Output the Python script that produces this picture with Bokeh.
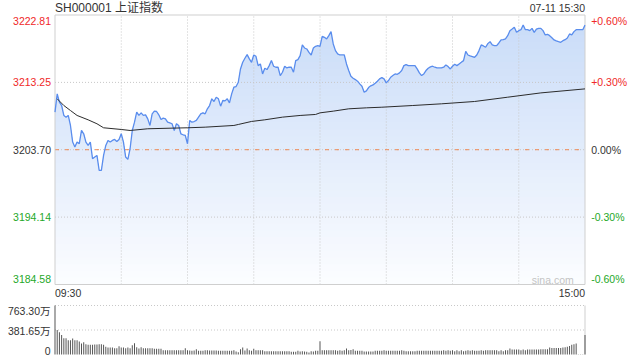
import numpy as np
from bokeh.plotting import figure
from bokeh.models import Range1d, Label
from bokeh.embed import file_html
from bokeh.resources import INLINE

# ---------------- data ----------------
title_text = "SH000001 上证指数"
date_text = "07-11 15:30"
prev_close = 3203.70
price_ticks = [3222.81, 3213.25, 3203.70, 3194.14, 3184.58]
pct_labels = ["+0.60%", "+0.30%", "0.00%", "-0.30%", "-0.60%"]
time_labels = ["09:30", "15:00"]
grid_minutes = [30, 60, 90, 120, 150, 180, 210]
vol_ticks = [763.30, 381.65, 0]
vol_labels = ["763.30万", "381.65万", "0"]

# one price per minute, 09:30 .. 11:30 / 13:01 .. 15:00 (241 points)
prices = [
    3209.03, 3211.62, 3210.44, 3209.97, 3208.56, 3208.32, 3208.56, 3207.14, 3204.78, 3204.07,
    3204.78, 3204.55, 3206.43, 3205.96, 3204.78, 3204.31, 3204.78, 3202.42, 3202.66, 3202.89,
    3200.77, 3200.77, 3202.89, 3204.31, 3205.02, 3204.78, 3205.02, 3205.16, 3204.87, 3205.16,
    3205.96, 3204.78, 3202.66, 3202.33, 3203.84, 3206.43, 3207.61, 3209.03, 3208.56, 3208.93,
    3208.56, 3208.65, 3208.08, 3207.14, 3208.79, 3209.17, 3209.12, 3208.65, 3207.99, 3208.18,
    3208.08, 3207.61, 3207.52, 3207.38, 3206.43, 3207.38, 3207.14, 3205.96, 3205.82, 3205.72,
    3204.55, 3207.85, 3207.61, 3207.70, 3207.85, 3208.32, 3208.79, 3208.93, 3208.79, 3209.50,
    3209.97, 3210.92, 3210.54, 3211.15, 3210.92, 3209.88, 3210.68, 3210.63, 3210.92, 3210.35,
    3211.62, 3212.57, 3212.66, 3213.27, 3215.16, 3216.10, 3216.67, 3217.19, 3216.58, 3216.10,
    3217.14, 3216.95, 3215.63, 3215.87, 3214.45, 3215.26, 3215.07, 3215.63, 3216.34, 3215.54,
    3215.40, 3215.40, 3214.22, 3214.69, 3215.54, 3215.30, 3215.40, 3215.40, 3214.69, 3216.34,
    3216.48, 3217.05, 3218.56, 3218.13, 3217.99, 3217.52, 3217.14, 3218.13, 3218.37, 3218.46,
    3218.37, 3219.79, 3219.64, 3219.41, 3219.88, 3220.45, 3218.70, 3217.76, 3217.29, 3217.14,
    3217.14, 3217.14, 3215.87, 3214.93, 3214.12, 3213.84, 3213.65, 3213.42, 3213.04, 3212.71,
    3211.86, 3212.05, 3212.52, 3212.76, 3212.90, 3213.13, 3213.42, 3213.75, 3213.93, 3213.75,
    3213.18, 3213.51, 3213.98, 3214.22, 3214.45, 3214.40, 3214.60, 3214.93, 3215.63, 3215.78,
    3215.63, 3215.63, 3215.63, 3215.63, 3215.16, 3214.60, 3214.22, 3214.45, 3214.93, 3215.26,
    3215.45, 3215.54, 3215.40, 3215.30, 3215.30, 3215.30, 3215.40, 3215.73, 3215.49, 3215.16,
    3215.54, 3215.82, 3215.63, 3215.87, 3216.10, 3216.34, 3217.66, 3217.14, 3217.00, 3216.91,
    3216.81, 3217.14, 3217.76, 3218.56, 3218.42, 3218.23, 3218.75, 3219.03, 3218.56, 3218.46,
    3218.46, 3218.84, 3219.27, 3219.31, 3219.41, 3219.88, 3220.59, 3220.82, 3221.06, 3220.35,
    3220.59, 3220.73, 3221.39, 3220.73, 3220.73, 3220.59, 3220.92, 3220.35, 3220.82, 3220.92,
    3220.92, 3220.59, 3219.98, 3220.07, 3219.88, 3219.59, 3219.27, 3219.13, 3219.03, 3218.94,
    3219.17, 3219.31, 3219.55, 3220.12, 3219.98, 3220.45, 3220.73, 3220.73, 3220.73, 3220.73,
    3221.37,
]

# average price line (read at selected minutes)
avg_minutes = [1, 4, 7, 10, 15, 19, 22, 30, 34, 42, 53, 60, 68, 81, 83, 89, 95, 103,
               111, 118, 120, 126, 133, 141, 148, 162, 175, 190, 205, 220, 240]
avg_values = [3210.92, 3209.97, 3209.26, 3208.56, 3207.94, 3207.38, 3206.81, 3206.57,
              3206.43, 3206.67, 3206.76, 3206.81, 3206.90, 3207.14, 3207.28, 3207.71,
              3207.94, 3208.32, 3208.56, 3208.70, 3208.93, 3209.17, 3209.50, 3209.64,
              3209.73, 3209.97, 3210.21, 3210.54, 3211.15, 3211.76, 3212.33]

# volume per minute, in 万
volumes = [
    763.3, 381, 345, 304, 253, 253, 222, 222, 248, 222,
    222, 201, 170, 191, 160, 150, 150, 150, 155, 155,
    160, 160, 150, 119, 108, 108, 108, 98, 98, 129,
    108, 108, 98, 108, 98, 144, 175, 113, 93, 113,
    98, 98, 98, 98, 98, 88, 88, 88, 88, 67,
    67, 67, 67, 67, 67, 67, 67, 67, 67, 98,
    67, 62, 57, 62, 83, 57, 57, 57, 67, 67,
    62, 62, 62, 62, 57, 57, 57, 57, 57, 57,
    57, 67, 46, 36, 83, 108, 62, 93, 67, 57,
    88, 67, 67, 67, 67, 52, 52, 52, 52, 52,
    52, 52, 52, 52, 52, 52, 52, 41, 41, 41,
    57, 46, 52, 46, 41, 31, 52, 46, 57, 57,
    206, 67, 67, 67, 67, 67, 67, 67, 57, 67,
    57, 67, 93, 67, 72, 83, 57, 57, 57, 57,
    46, 46, 46, 46, 46, 57, 57, 57, 57, 67,
    57, 57, 57, 57, 57, 57, 57, 67, 57, 52,
    52, 52, 52, 52, 57, 57, 57, 57, 57, 57,
    57, 57, 57, 57, 57, 57, 67, 57, 67, 57,
    67, 52, 67, 52, 67, 52, 57, 67, 57, 67,
    57, 57, 57, 67, 57, 67, 67, 67, 67, 67,
    67, 52, 67, 52, 67, 67, 93, 77, 77, 77,
    77, 67, 77, 67, 77, 77, 77, 77, 77, 77,
    83, 83, 83, 83, 108, 103, 103, 103, 103, 103,
    108, 113, 119, 134, 150, 160, 170, 3, 3, 3,
    304,
]

# ---------------- layout (pixels) & styles ----------------
W, H = 640, 360
PX_LEFT, PX_RIGHT = 54.5, 584.5
PX_PTOP, PX_PBOT = 14.5, 284.0
PX_VTOP, PX_VBOT = 305.0, 354.0

FONT = "'Liberation Sans', 'Noto Sans CJK SC'"
RED = "#f02828"
GREEN = "#24a828"
DARK = "#333333"
BORDER = "#cfcfcf"
GRID = "#c8c8c8"
LINE_BLUE = "#5a8ded"
AVG = "#2b2b2b"
DASH = "#f08a55"
TOP_FILL = np.array([200, 219, 248])
BOT_FILL = np.array([252, 253, 255])

minutes = np.arange(len(prices))
price_arr = np.array(prices)
ymin, ymax = min(price_ticks), max(price_ticks)
xmax = len(prices) - 1
vmax = max(vol_ticks)


def full_range(v0, v1, px0, px1, total, invert=False):
    # value v0 at pixel px0, v1 at pixel px1; returns range covering [0, total] pixels
    if invert:
        px0, px1 = total - px0, total - px1
    scale = (v1 - v0) / (px1 - px0)
    return Range1d(v0 - px0 * scale, v0 + (total - px0) * scale)


x_range = full_range(0, xmax, PX_LEFT, PX_RIGHT, W)
y_range = full_range(ymin, ymax, PX_PBOT, PX_PTOP, H, invert=True)
vol_range = full_range(0, vmax, PX_VBOT, PX_VTOP, H, invert=True)

p = figure(width=W, height=H, x_range=x_range, y_range=y_range,
           output_backend="svg", toolbar_location=None,
           x_axis_location=None, y_axis_location=None, min_border=0)
p.extra_y_ranges = {"vol": vol_range}
p.outline_line_color = None
p.background_fill_color = "white"
p.border_fill_color = "white"
p.xgrid.visible = False
p.ygrid.visible = False

# gradient fill under the price line (stacked bands, top band first)
nb = 40
levels = np.linspace(ymin, ymax, nb + 1)
for k in range(nb - 1, -1, -1):
    t = (k + 0.5) / nb
    c = BOT_FILL + (TOP_FILL - BOT_FILL) * t
    col = "#%02x%02x%02x" % tuple(int(round(val)) for val in c)
    p.varea(x=minutes, y1=ymin, y2=np.minimum(price_arr, levels[k + 1]),
            fill_color=col, fill_alpha=1.0)

# grid lines
inner_prices = [val for val in price_ticks if val not in (ymin, ymax)]
p.segment(x0=grid_minutes, y0=[ymin] * len(grid_minutes), x1=grid_minutes,
          y1=[ymax] * len(grid_minutes), line_color=GRID, line_width=1, line_dash="1 2")
p.segment(x0=[0] * len(inner_prices), y0=inner_prices, x1=[xmax] * len(inner_prices),
          y1=inner_prices, line_color=GRID, line_width=1, line_dash="1 2")
p.segment(x0=[0], y0=[prev_close], x1=[xmax], y1=[prev_close],
          line_color=DASH, line_width=1, line_dash="4 6")

# price box border
p.segment(x0=[0, 0, 0, xmax], y0=[ymin, ymax, ymin, ymin],
          x1=[xmax, xmax, 0, xmax], y1=[ymin, ymax, ymax, ymax],
          line_color=BORDER, line_width=1)

p.line(minutes, price_arr, line_color=LINE_BLUE, line_width=1.3)
p.line(avg_minutes, avg_values, line_color=AVG, line_width=1)


def color_for(val):
    if val > prev_close + 1e-6:
        return RED
    if val < prev_close - 1e-6:
        return GREEN
    return DARK


offs = {ymax: -5.5, ymin: 5.7}
for val, pl in zip(price_ticks, pct_labels):
    yo = offs.get(val, 0)
    p.add_layout(Label(x=0, y=val, x_offset=-4, y_offset=yo, text="%.2f" % val,
                       text_align="right", text_baseline="middle", text_font=FONT,
                       text_font_size="10.5px", text_color=color_for(val)))
    p.add_layout(Label(x=xmax, y=val, x_offset=6.2, y_offset=yo, text=pl,
                       text_align="left", text_baseline="middle", text_font=FONT,
                       text_font_size="10.5px", text_color=color_for(val)))

p.add_layout(Label(x=0, y=ymax, y_offset=6.8, text=title_text, text_align="left",
                   text_baseline="middle", text_font=FONT, text_font_size="12px",
                   text_color=DARK))
p.add_layout(Label(x=xmax, y=ymax, y_offset=6.7, text=date_text, text_align="right",
                   text_baseline="middle", text_font=FONT, text_font_size="10.5px",
                   text_color=DARK))
p.add_layout(Label(x=0, y=ymin, y_offset=-8.5, text=time_labels[0], text_align="left",
                   text_baseline="middle", text_font=FONT, text_font_size="10.5px",
                   text_color=DARK))
p.add_layout(Label(x=xmax, y=ymin, y_offset=-8.5, text=time_labels[1], text_align="right",
                   text_baseline="middle", text_font=FONT, text_font_size="10.5px",
                   text_color=DARK))
p.add_layout(Label(x=xmax, y=ymin, x_offset=-11.2, y_offset=4.6, text="sina.com",
                   text_align="right", text_baseline="middle", text_font=FONT,
                   text_font_size="10.5px", text_color="#c4c4c4"))

# ---------------- volume ----------------
vt = [t for t in vol_ticks if t > 0]
p.segment(x0=[0] * len(vt), y0=vt, x1=[xmax] * len(vt), y1=vt, y_range_name="vol",
          line_color=GRID, line_width=1, line_dash="1 2")
p.segment(x0=[xmax], y0=[0], x1=[xmax], y1=[vmax], y_range_name="vol",
          line_color=BORDER, line_width=1)
p.vbar(x=minutes, top=volumes, bottom=0, width=0.45, y_range_name="vol",
       fill_color="#555555", line_color=None)

voffs = {vmax: -5.5, 381.65: -0.5, 0: 3.5}
for t, lab in zip(vol_ticks, vol_labels):
    p.add_layout(Label(x=0, y=t, x_offset=-4.5, y_offset=voffs.get(t, 0), text=lab,
                       y_range_name="vol", text_align="right", text_baseline="middle",
                       text_font=FONT, text_font_size="10.5px", text_color=DARK))

open("out.html", "w").write(file_html(p, INLINE))
